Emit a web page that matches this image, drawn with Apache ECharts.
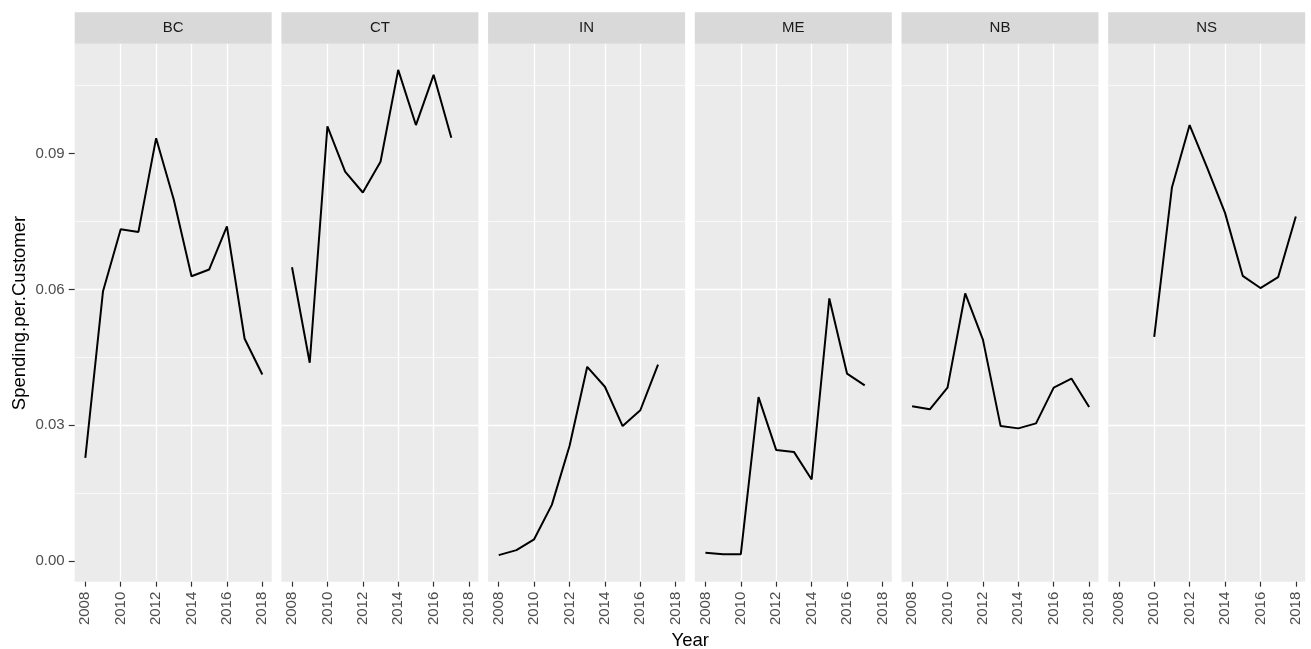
<!DOCTYPE html>
<html>
<head>
<meta charset="utf-8">
<title>Spending per Customer</title>
<script src="https://cdn.jsdelivr.net/npm/echarts@6.0.0/dist/echarts.min.js"></script>
<style>
html, body { margin: 0; padding: 0; background: #fff; }
#main { width: 1311px; height: 649px; }
</style>
</head>
<body>
<div id="main"></div>
<script>
// data
var years = [2008, 2009, 2010, 2011, 2012, 2013, 2014, 2015, 2016, 2017, 2018];
var states = ['BC', 'CT', 'IN', 'ME', 'NB', 'NS'];
var bc = [0.0228, 0.0596, 0.0733, 0.0727, 0.0934, 0.0798, 0.0629, 0.0644, 0.0739, 0.0491, 0.0412];
var ct = [0.0649, 0.0438, 0.0960, 0.0860, 0.0814, 0.0882, 0.1085, 0.0963, 0.1074, 0.0935, null];
var ind = [0.0013, 0.0024, 0.0048, 0.0124, 0.0254, 0.0429, 0.0385, 0.0298, 0.0333, 0.0434, null];
var me = [0.0018, 0.0015, 0.0015, 0.0362, 0.0245, 0.0241, 0.0180, 0.0580, 0.0414, 0.0388, null];
var nb = [0.0342, 0.0335, 0.0383, 0.0591, 0.0489, 0.0298, 0.0293, 0.0304, 0.0383, 0.0403, 0.0340];
var ns = [null, null, 0.0495, 0.0825, 0.0963, 0.0868, 0.0769, 0.0630, 0.0603, 0.0627, 0.0761];
var stateValues = [bc, ct, ind, me, nb, ns];
var xTicks = [2008, 2010, 2012, 2014, 2016, 2018];
var yTicks = [0, 0.03, 0.06, 0.09];

var font = 'Liberation Sans, Arial, sans-serif';
var chart = echarts.init(document.getElementById('main'));

// panel layout
var panelLeft = 74.7, panelStep = 206.7, panelWidth = 197;
var panelTop = 43.7, panelHeight = 538, stripTop = 12.3;

var grids = [], xAxes = [], yAxes = [], series = [], graphics = [];

for (var i = 0; i < states.length; i++) {
    var left = panelLeft + i * panelStep;
    grids.push({
        left: left, top: panelTop, width: panelWidth, height: panelHeight,
        show: true, backgroundColor: '#EBEBEB', borderWidth: 0
    });
    xAxes.push({
        type: 'value', gridIndex: i, position: 'bottom', min: 2007.4, max: 2018.53, splitNumber: 5,
        axisLine: { show: false, onZero: false },
        axisTick: { show: true, length: 5, customValues: xTicks, lineStyle: { color: '#333333', width: 1.2 } },
        axisLabel: {
            customValues: xTicks, rotate: 90, margin: 10, color: '#4D4D4D',
            fontSize: 15, fontFamily: font, formatter: function (v) { return String(v); }
        },
        splitLine: { show: true, showMinLine: false, showMaxLine: false, lineStyle: { color: '#FFFFFF', width: 1.3 } },
        minorSplitLine: { show: false }
    });
    yAxes.push({
        type: 'value', gridIndex: i, position: 'left', min: -0.00457, max: 0.11427, splitNumber: 4,
        axisLine: { show: false, onZero: false },
        axisTick: { show: i === 0, length: 6, customValues: yTicks, lineStyle: { color: '#333333', width: 1.2 } },
        axisLabel: {
            show: i === 0, customValues: yTicks, margin: 10, color: '#4D4D4D',
            fontSize: 15, fontFamily: font, formatter: function (v) { return v.toFixed(2); }
        },
        splitLine: { show: true, showMinLine: false, showMaxLine: false, lineStyle: { color: '#FFFFFF', width: 1.3 } },
        minorTick: { show: false, splitNumber: 2 },
        minorSplitLine: { show: true, lineStyle: { color: '#FFFFFF', width: 0.7 } }
    });

    var pts = [];
    for (var j = 0; j < years.length; j++) {
        if (stateValues[i][j] !== null) pts.push([years[j], stateValues[i][j]]);
    }
    series.push({
        type: 'line', name: states[i], xAxisIndex: i, yAxisIndex: i, data: pts,
        symbol: 'none', silent: true,
        lineStyle: { color: '#000000', width: 2 }
    });

    // facet strip
    graphics.push({
        type: 'rect', silent: true,
        shape: { x: left, y: stripTop, width: panelWidth, height: panelTop - stripTop },
        style: { fill: '#D9D9D9' }
    });
    graphics.push({
        type: 'text', silent: true,
        x: left + panelWidth / 2, y: (stripTop + panelTop) / 2,
        style: { text: states[i], align: 'center', verticalAlign: 'middle', fill: '#1A1A1A', fontSize: 15, fontFamily: font }
    });
}

// axis titles
graphics.push({
    type: 'text', silent: true, x: 690.2, y: 641,
    style: { text: 'Year', align: 'center', verticalAlign: 'middle', fill: '#000000', fontSize: 18.5, fontFamily: font }
});
graphics.push({
    type: 'text', silent: true, x: 20, y: 313, rotation: Math.PI / 2,
    style: { text: 'Spending.per.Customer', align: 'center', verticalAlign: 'middle', fill: '#000000', fontSize: 18.5, fontFamily: font }
});

chart.setOption({
    animation: false,
    backgroundColor: '#FFFFFF',
    grid: grids,
    xAxis: xAxes,
    yAxis: yAxes,
    series: series,
    graphic: graphics
});
</script>
</body>
</html>
